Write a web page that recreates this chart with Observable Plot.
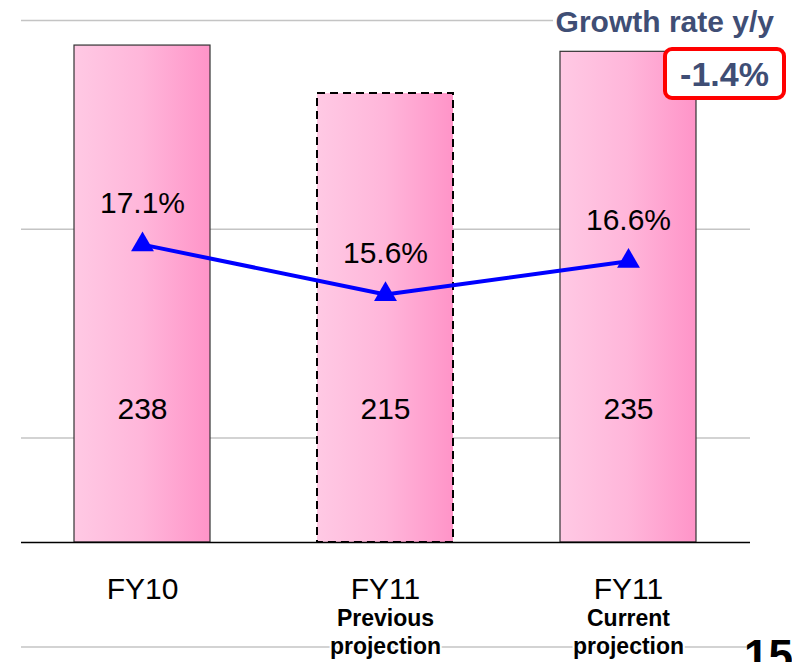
<!DOCTYPE html>
<html>
<head>
<meta charset="utf-8">
<script src="https://cdn.jsdelivr.net/npm/d3@7"></script>
<script src="https://cdn.jsdelivr.net/npm/@observablehq/plot@0.6"></script>
<style>
  html, body { margin: 0; padding: 0; background: #fff; overflow: hidden; }
  #wrap { position: relative; width: 792px; height: 662px; overflow: hidden;
          font-family: "Liberation Sans", Arial, sans-serif; }
  #wrap svg { position: absolute; left: 0; top: 0; }
  #title { position: absolute; top: 6px; right: 15px; background: #fff; color: #3F4E75;
           font-weight: bold; font-size: 30px; line-height: 32px; padding: 0 3px; white-space: nowrap; }
  #change { position: absolute; left: 663px; top: 47px; width: 123px; height: 53px; box-sizing: border-box;
            border: 4px solid #FF0000; border-radius: 9px; background: #fff; color: #3F4E75;
            font-weight: bold; font-size: 34px; line-height: 45px; text-align: center; padding-top: 1px; }
  #page { position: absolute; left: 744px; top: 634px; font-weight: bold; font-size: 44px; line-height: 44px; color: #000; }
</style>
</head>
<body>
<div id="wrap"></div>
<script>
// ---- data ----
const categories = ["FY10", "FY11 prev", "FY11 cur"];
const mainLabels = ["FY10", "FY11", "FY11"];
const subLabels = ["", "Previous\nprojection", "Current\nprojection"];
const projectionKind = ["actual", "previous", "current"];
const sales = [238, 215, 235];
const growthPct = [17.1, 15.6, 16.6];
const gridTicks = [-50, 50, 150, 250];
const salesDomain = [0, 250];
const pctAxisDomain = [8.14, 23.84];   // secondary (percent) axis, spans the same height as salesDomain
const headerLabel = "Growth rate y/y";
const changeLabel = "-1.4%";
const pageNumber = "15";

const data = categories.map((c, i) => ({
  cat: c, label: mainLabels[i], sub: subLabels[i], kind: projectionKind[i],
  sales: sales[i], pct: growthPct[i]
}));
const labelOf = new Map(data.map(d => [d.cat, d.label]));
const pctToY = d3.scaleLinear().domain(pctAxisDomain).range(salesDomain);

const font = '"Liberation Sans", Arial, sans-serif';

const plot = Plot.plot({
  width: 792,
  height: 662,
  marginTop: 20,
  marginBottom: 120,
  marginLeft: 21,
  marginRight: 42,
  style: { fontFamily: font, fontSize: "30px", color: "#000", background: "transparent", overflow: "visible" },
  x: { type: "band", domain: categories, paddingInner: 0.44, paddingOuter: 0.22, align: 0.5 },
  y: { domain: salesDomain, axis: null },
  marks: [
    Plot.ruleY(gridTicks, { stroke: "#C4C4C4", strokeWidth: 1.5 }),
    Plot.barY(data.filter(d => d.kind !== "previous"), {
      x: "cat", y: "sales", fill: "url(#barGrad)", stroke: "#333", strokeWidth: 1.2
    }),
    Plot.barY(data.filter(d => d.kind === "previous"), {
      x: "cat", y: "sales", fill: "url(#barGrad)", stroke: "#000", strokeWidth: 2, strokeDasharray: "8,5"
    }),
    Plot.ruleY([0], { stroke: "#000", strokeWidth: 1.5 }),
    Plot.axisX({ tickSize: 0, tickPadding: 35, tickFormat: d => labelOf.get(d), fontSize: 30, label: null, fill: "#000" }),
    Plot.text(data, {
      x: "cat", text: "sub", frameAnchor: "bottom", lineAnchor: "top", dy: 64,
      fontSize: 23, fontWeight: "bold", lineHeight: 1.22, fill: "#000", stroke: "#fff", strokeWidth: 4
    }),
    Plot.text(data, { x: "cat", text: d => String(d.sales), frameAnchor: "bottom", dy: -124, fontSize: 30, fill: "#000" }),
    Plot.line(data, { x: "cat", y: d => pctToY(d.pct), stroke: "#0000FF", strokeWidth: 4 }),
    Plot.dot(data, { x: "cat", y: d => pctToY(d.pct), symbol: "triangle", r: 8.5, fill: "#0000FF", stroke: "none" }),
    Plot.text(data, { x: "cat", y: d => pctToY(d.pct), text: d => d.pct.toFixed(1) + "%", dy: -41, fontSize: 30, fill: "#000" })
  ]
});

// horizontal pink gradient for the bars
const defs = d3.select(plot).insert("defs", ":first-child");
const grad = defs.append("linearGradient").attr("id", "barGrad")
  .attr("x1", "0").attr("x2", "1").attr("y1", "0").attr("y2", "0");
grad.append("stop").attr("offset", "0").attr("stop-color", "#FFC9E4");
grad.append("stop").attr("offset", "0.5").attr("stop-color", "#FFB6DA");
grad.append("stop").attr("offset", "1").attr("stop-color", "#FF94C8");

const wrap = document.getElementById("wrap");
wrap.appendChild(plot);

const title = document.createElement("div");
title.id = "title"; title.textContent = headerLabel;
wrap.appendChild(title);

const change = document.createElement("div");
change.id = "change"; change.textContent = changeLabel;
wrap.appendChild(change);

const page = document.createElement("div");
page.id = "page"; page.textContent = pageNumber;
wrap.appendChild(page);
</script>
</body>
</html>
